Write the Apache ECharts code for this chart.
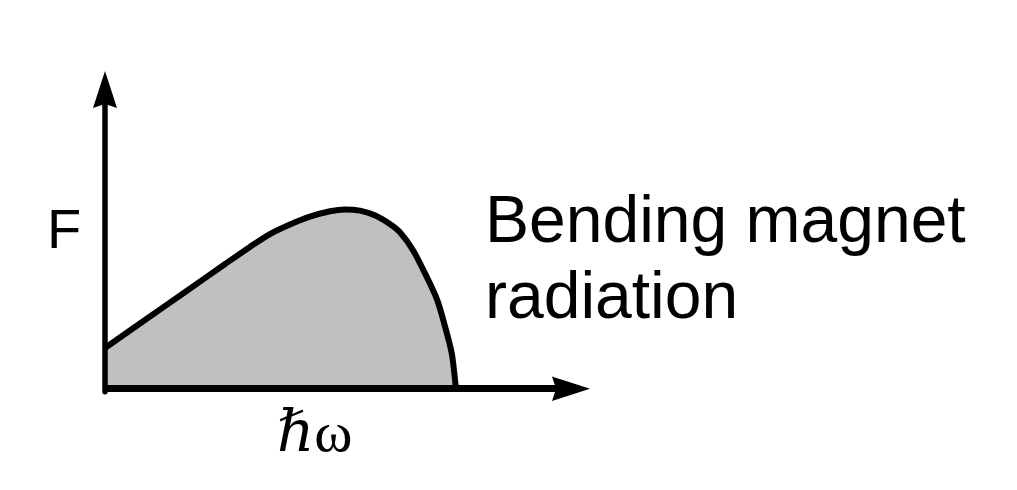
<!DOCTYPE html>
<html>
<head>
<meta charset="utf-8">
<script src="https://cdn.jsdelivr.net/npm/echarts@6/dist/echarts.min.js"></script>
<style>
html,body{margin:0;padding:0;background:#fff;}
#chart{width:1017px;height:490px;}
</style>
</head>
<body>
<div id="chart"></div>
<script>
// Photon energy (arbitrary units) and flux F (arbitrary units)
const energy = [0, 8.5, 17.2, 25.7, 31.1, 35.4, 39.7, 44.0, 48.3, 51.5, 54.7, 58.0, 61.2, 63.3, 66.1, 69.1, 71.3, 73.0, 74.4, 75.0, 75.3];
const flux   = [13.6, 22.9, 32.3, 41.6, 47.4, 51.7, 54.9, 57.5, 59.3, 59.9, 59.5, 57.9, 55.0, 52.3, 46.3, 37.2, 29.6, 20.6, 11.9, 4.6, 0];
const yLabel = 'F';
const xLabel = ['ℏ', 'ω'];
const titleLines = ['Bending magnet', 'radiation'];

const points = energy.map((e, i) => [e, flux[i]]);
const arrowPath = 'path://M12,0 L24,37 L12,33 L0,37 Z';

const chart = echarts.init(document.getElementById('chart'), null, {renderer: 'canvas'});
chart.setOption({
  animation: false,
  backgroundColor: '#ffffff',
  grid: {left: 105, top: 89.5, right: 446, bottom: 98.3, containLabel: false},
  xAxis: {
    type: 'value', min: 0, max: 100, z: 10,
    axisLine: {show: true, onZero: true, symbol: ['none', arrowPath], symbolSize: [25, 38],
      lineStyle: {color: '#000', width: 7, cap: 'butt'}},
    axisTick: {show: false}, axisLabel: {show: false}, splitLine: {show: false}
  },
  yAxis: {
    type: 'value', min: -1, max: 100, z: 10,
    axisLine: {show: true, onZero: false, symbol: ['none', arrowPath], symbolSize: [24, 37],
      lineStyle: {color: '#000', width: 5.5}},
    axisTick: {show: false}, axisLabel: {show: false}, splitLine: {show: false}
  },
  series: [{
    type: 'line',
    data: points,
    smooth: 0.3,
    symbol: 'none',
    lineStyle: {color: '#000', width: 6},
    areaStyle: {color: '#c0c0c0', opacity: 1},
    z: 1
  }],
  graphic: [
    {type: 'text', left: 47, top: 233 - 28, style: {text: yLabel, font: '56px "Liberation Sans", Arial, sans-serif', fill: '#000'}},
    {type: 'text', x: 485, y: 224, style: {text: titleLines[0], font: '66px "Liberation Sans", Arial, sans-serif', fill: '#000', verticalAlign: 'middle'}},
    {type: 'text', x: 485, y: 300, style: {text: titleLines[1], font: '66px "Liberation Sans", Arial, sans-serif', fill: '#000', verticalAlign: 'middle'}},
    {type: 'text', x: 277, y: 436, style: {
      text: '{h|' + xLabel[0] + '}{w|' + xLabel[1] + '}', verticalAlign: 'middle',
      rich: {
        h: {font: 'italic 58px "Liberation Serif", "DejaVu Serif", serif', fill: '#000'},
        w: {font: '58px "Liberation Serif", "DejaVu Serif", serif', fill: '#000'}
      }
    }}
  ]
});
</script>
</body>
</html>
